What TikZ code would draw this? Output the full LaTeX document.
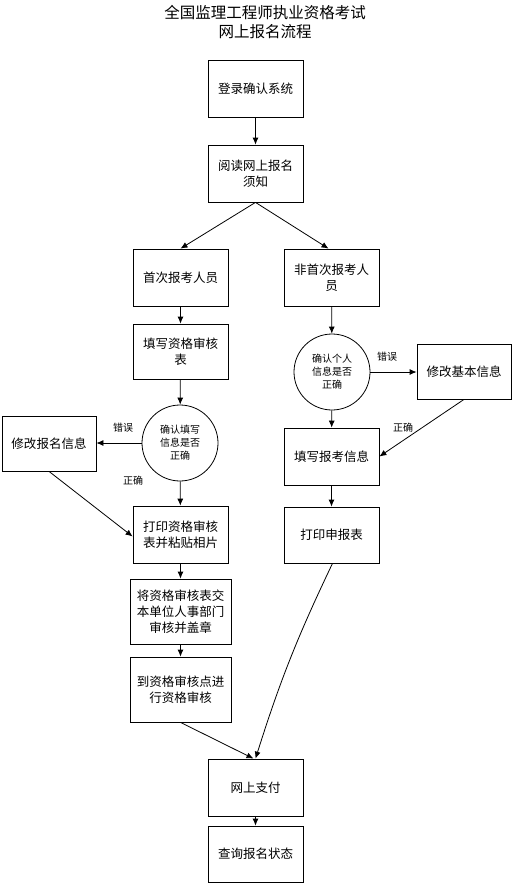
\documentclass[tikz,border=0pt]{standalone}
\usepackage{fontspec}
\newfontfamily\cjk{Noto Sans CJK SC}
\usepackage{tikz}
\usetikzlibrary{arrows.meta}

\begin{document}
\begin{tikzpicture}[x=1pt,y=-1pt,>={Latex[length=7pt,width=6pt]},
        box/.style={draw,line width=0.8pt,minimum width=95pt,minimum height=57pt,inner sep=1pt,align=center,font=\cjk\fontsize{12.5}{16}\selectfont},
        check/.style={draw,circle,line width=0.8pt,minimum size=76pt,inner sep=0pt,align=center,font=\cjk\fontsize{10}{13}\selectfont},
        lbl/.style={font=\cjk\fontsize{10}{12}\selectfont}]
        \useasboundingbox (0,0) rectangle (512,883);
        % title
        \node[font=\cjk\fontsize{15.5}{19}\selectfont,align=center] (title) at (265,22.5) {全国监理工程师执业资格考试\\网上报名流程};
        % boxes
        \node[box] (login) at (255.5,88.5) {登录确认系统};
        \node[box] (notice) at (255.5,173.5) {阅读网上报名\\须知};
        \node[box] (first) at (180.5,277.5) {首次报考人员};
        \node[box] (again) at (331.5,277.5) {非首次报考人\\员};
        \node[box,minimum height=55pt] (fillform) at (180.5,351.5) {填写资格审核\\表};
        \node[check] (chkL) at (180,443) {确认填写\\信息是否\\正确};
        \node[check] (chkR) at (332,372) {确认个人\\信息是否\\正确};
        \node[box,minimum width=94pt,minimum height=55pt] (modbasic) at (464,371.5) {修改基本信息};
        \node[box,minimum width=94pt,minimum height=55pt] (modreg) at (49,443.5) {修改报名信息};
        \node[box] (printform) at (180.5,534.5) {打印资格审核\\表并粘贴相片};
        \node[box] (fillinfo) at (331.5,456.5) {填写报考信息};
        \node[box,minimum height=56pt] (printapp) at (331.5,535) {打印申报表};
        \node[box,minimum width=101pt,minimum height=65pt] (submit) at (180.5,611.5) {将资格审核表交\\本单位人事部门\\审核并盖章};
        \node[box,minimum width=101pt,minimum height=65pt] (audit) at (180.5,689.5) {到资格审核点进\\行资格审核};
        \node[box] (pay) at (255.5,787.5) {网上支付};
        \node[box,minimum height=56pt] (query) at (255.5,854) {查询报名状态};
        % labels
        \node[lbl] (errR) at (387,357) {错误};
        \node[lbl] (errL) at (123,428) {错误};
        \node[lbl] (okL) at (133,481) {正确};
        \node[lbl] (okR) at (403,428) {正确};
        % connectors
        \draw[line width=0.8pt,->] (login) -- (notice);
        \draw[line width=0.8pt,->] (notice.south) -- (first.north);
        \draw[line width=0.8pt,->] (notice.south) -- ([xshift=-3pt]again.north);
        \draw[line width=0.8pt,->] (first) -- (fillform);
        \draw[line width=0.8pt,->] (fillform) -- (chkL);
        \draw[line width=0.8pt,->] (chkL.west) -- (modreg.east |- chkL.west);
        \draw[line width=0.8pt,->] (chkL) -- (printform);
        \draw[line width=0.8pt,->] (modreg.south) -- ([yshift=-2pt]printform.west);
        \draw[line width=0.8pt,->] (again) -- (chkR);
        \draw[line width=0.8pt,->] (chkR.east) -- (modbasic.west |- chkR.east);
        \draw[line width=0.8pt,->] (chkR) -- (fillinfo);
        \draw[line width=0.8pt,->] (modbasic.south) -- (fillinfo.east);
        \draw[line width=0.8pt,->] (fillinfo) -- (printapp);
        \draw[line width=0.8pt,->] (printform) -- (submit);
        \draw[line width=0.8pt,->] (submit) -- (audit);
        \draw[line width=0.8pt,->] (audit.south) -- ([xshift=-2pt]pay.north);
        \draw[line width=0.8pt,->] ([xshift=1pt]printapp.south) to[bend right=4] (pay.north);
        \draw[line width=0.8pt,->] (pay) -- (query);
\end{tikzpicture}
\end{document}
